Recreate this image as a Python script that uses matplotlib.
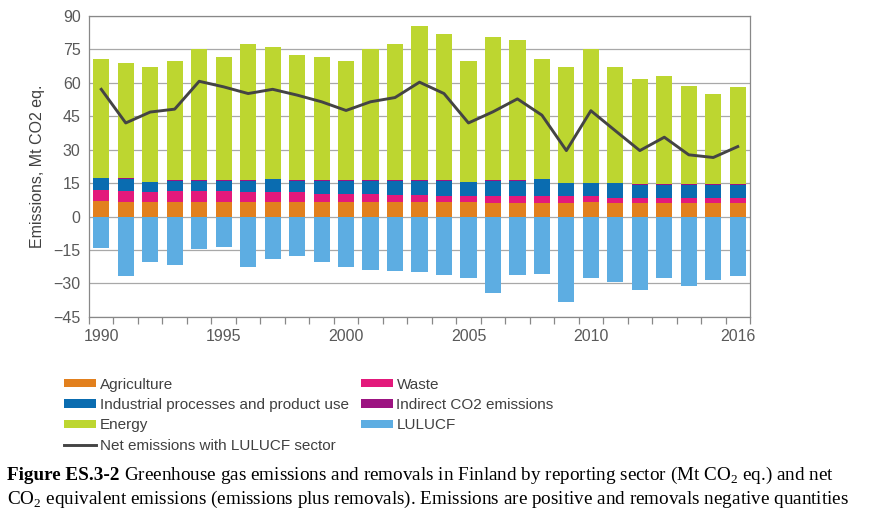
import numpy as np
import matplotlib
matplotlib.use("Agg")
import matplotlib.pyplot as plt

years = list(range(1990, 2017))
agriculture = [7.1, 6.7, 6.4, 6.7, 6.7, 6.7, 6.7, 6.7, 6.7, 6.4, 6.4, 6.4, 6.7, 6.4,
               6.4, 6.4, 6.3, 6.3, 6.3, 6.3, 6.7, 6.3, 6.3, 6.3, 6.3, 6.3, 6.3]
waste = [4.9, 4.8, 4.5, 4.8, 4.8, 4.8, 4.2, 4.2, 4.2, 3.9, 3.9, 3.9, 3.0, 3.3,
         2.7, 2.7, 2.8, 2.8, 2.8, 2.8, 2.4, 2.0, 2.0, 2.0, 2.0, 2.0, 2.0]
industrial = [5.3, 5.2, 4.6, 4.6, 4.6, 4.6, 5.2, 5.8, 5.2, 5.8, 5.8, 5.8, 6.4, 6.4,
              7.0, 6.4, 7.0, 7.0, 7.6, 5.8, 5.8, 6.6, 6.0, 6.0, 6.0, 6.0, 6.0]
indirect = [0.1, 0.4, 0.1, 0.1, 0.1, 0.1, 0.1, 0.1, 0.1, 0.1, 0.1, 0.1, 0.3, 0.3,
            0.1, 0.1, 0.3, 0.1, 0.1, 0.1, 0.1, 0.1, 0.1, 0.1, 0.1, 0.1, 0.1]
energy = [53.5, 52.0, 51.7, 53.4, 58.8, 55.2, 61.2, 59.4, 56.4, 55.2, 53.4, 58.8, 61.0, 68.9,
          65.5, 54.0, 64.1, 63.0, 54.1, 52.3, 60.0, 52.3, 47.3, 48.5, 44.4, 40.8, 43.8]
lulucf = [-14.3, -26.8, -20.4, -21.6, -14.7, -13.7, -22.6, -18.9, -17.9, -20.4, -22.6, -24.0, -24.4, -25.1,
          -26.3, -27.4, -34.1, -26.3, -25.8, -38.4, -27.4, -29.2, -32.9, -27.4, -31.1, -28.6, -26.8]
net = [57.1, 42.0, 46.9, 48.2, 60.7, 58.2, 55.2, 57.1, 54.5, 51.5, 47.6, 51.5, 53.4, 60.3,
       55.2, 42.0, 47.0, 52.8, 45.5, 29.6, 47.5, 38.5, 29.6, 35.6, 27.7, 26.5, 31.4]
year_labels = ["1990", "1995", "2000", "2005", "2010", "2016"]

plt.rcParams["font.family"] = ["Liberation Sans", "DejaVu Sans"]
plt.rcParams["mathtext.fontset"] = "custom"
plt.rcParams["mathtext.rm"] = "Liberation Serif"

fig = plt.figure(figsize=(8.84, 5.16), dpi=100)
ax = fig.add_axes([0.1007, 0.386, 0.7477, 0.583])

x = np.arange(len(years))
w = 0.66
bottom = np.zeros(len(years))
handles = {}
for name, vals, col in [("Agriculture", agriculture, "#E2801E"),
                        ("Waste", waste, "#E3197B"),
                        ("Industrial processes and product use", industrial, "#0A6CB0"),
                        ("Indirect CO2 emissions", indirect, "#9C1381"),
                        ("Energy", energy, "#BDD630")]:
    handles[name] = ax.bar(x, vals, w, bottom=bottom, color=col, zorder=2, linewidth=0)
    bottom += np.array(vals)
handles["LULUCF"] = ax.bar(x, lulucf, w, color="#5DADE2", zorder=2, linewidth=0)
handles["Net emissions with LULUCF sector"], = ax.plot(x, net, color="#444444", lw=2.1, zorder=3)

ax.set_xlim(-0.5, len(years) - 0.5)
ax.set_ylim(-45, 90)
ax.set_yticks(np.arange(-45, 91, 15))
ax.yaxis.grid(True, color="#A8A8A8", lw=0.9, zorder=0)
ax.tick_params(axis="y", length=0, labelsize=11.5, labelcolor="#595959", pad=6)
lab_pos = [years.index(int(s)) for s in year_labels]
ax.set_xticks(lab_pos)
ax.set_xticklabels(year_labels)
ax.set_xticks(np.arange(-0.5, len(years), 1), minor=True)
ax.tick_params(axis="x", which="major", length=0, labelsize=11.5, labelcolor="#595959", pad=9)
ax.tick_params(axis="x", which="minor", length=5, color="#888888", width=0.9)
for s in ax.spines.values():
    s.set_color("#888888")
    s.set_linewidth(0.9)
ax.set_ylabel("Emissions, Mt CO2 eq.", fontsize=11.5, color="#404040", labelpad=6)

order = ["Agriculture", "Industrial processes and product use", "Energy",
         "Net emissions with LULUCF sector", "Waste", "Indirect CO2 emissions", "LULUCF"]
fig.legend([handles[k] for k in order], order, loc="upper left", bbox_to_anchor=(0.064, 0.283),
           ncol=2, frameon=False, fontsize=11, handlelength=2.1, handleheight=0.45,
           handletextpad=0.25, labelspacing=0.42, columnspacing=0.75, borderpad=0,
           labelcolor="#404040")

cap_kw = dict(fontsize=13.8, family="Liberation Serif", color="black", va="baseline")
t1 = fig.text(0.008, 1 - 480 / 516, "Figure ES.3-2", fontweight="bold", **cap_kw)
fig.canvas.draw()
bb = t1.get_window_extent()
fig.text((bb.x1 + 4) / fig.bbox.width, 1 - 480 / 516,
         r"Greenhouse gas emissions and removals in Finland by reporting sector (Mt CO$_2$ eq.) and net",
         **cap_kw)
fig.text(0.008, 1 - 504 / 516,
         r"CO$_2$ equivalent emissions (emissions plus removals). Emissions are positive and removals negative quantities",
         **cap_kw)

fig.savefig("out.png", dpi=100)
